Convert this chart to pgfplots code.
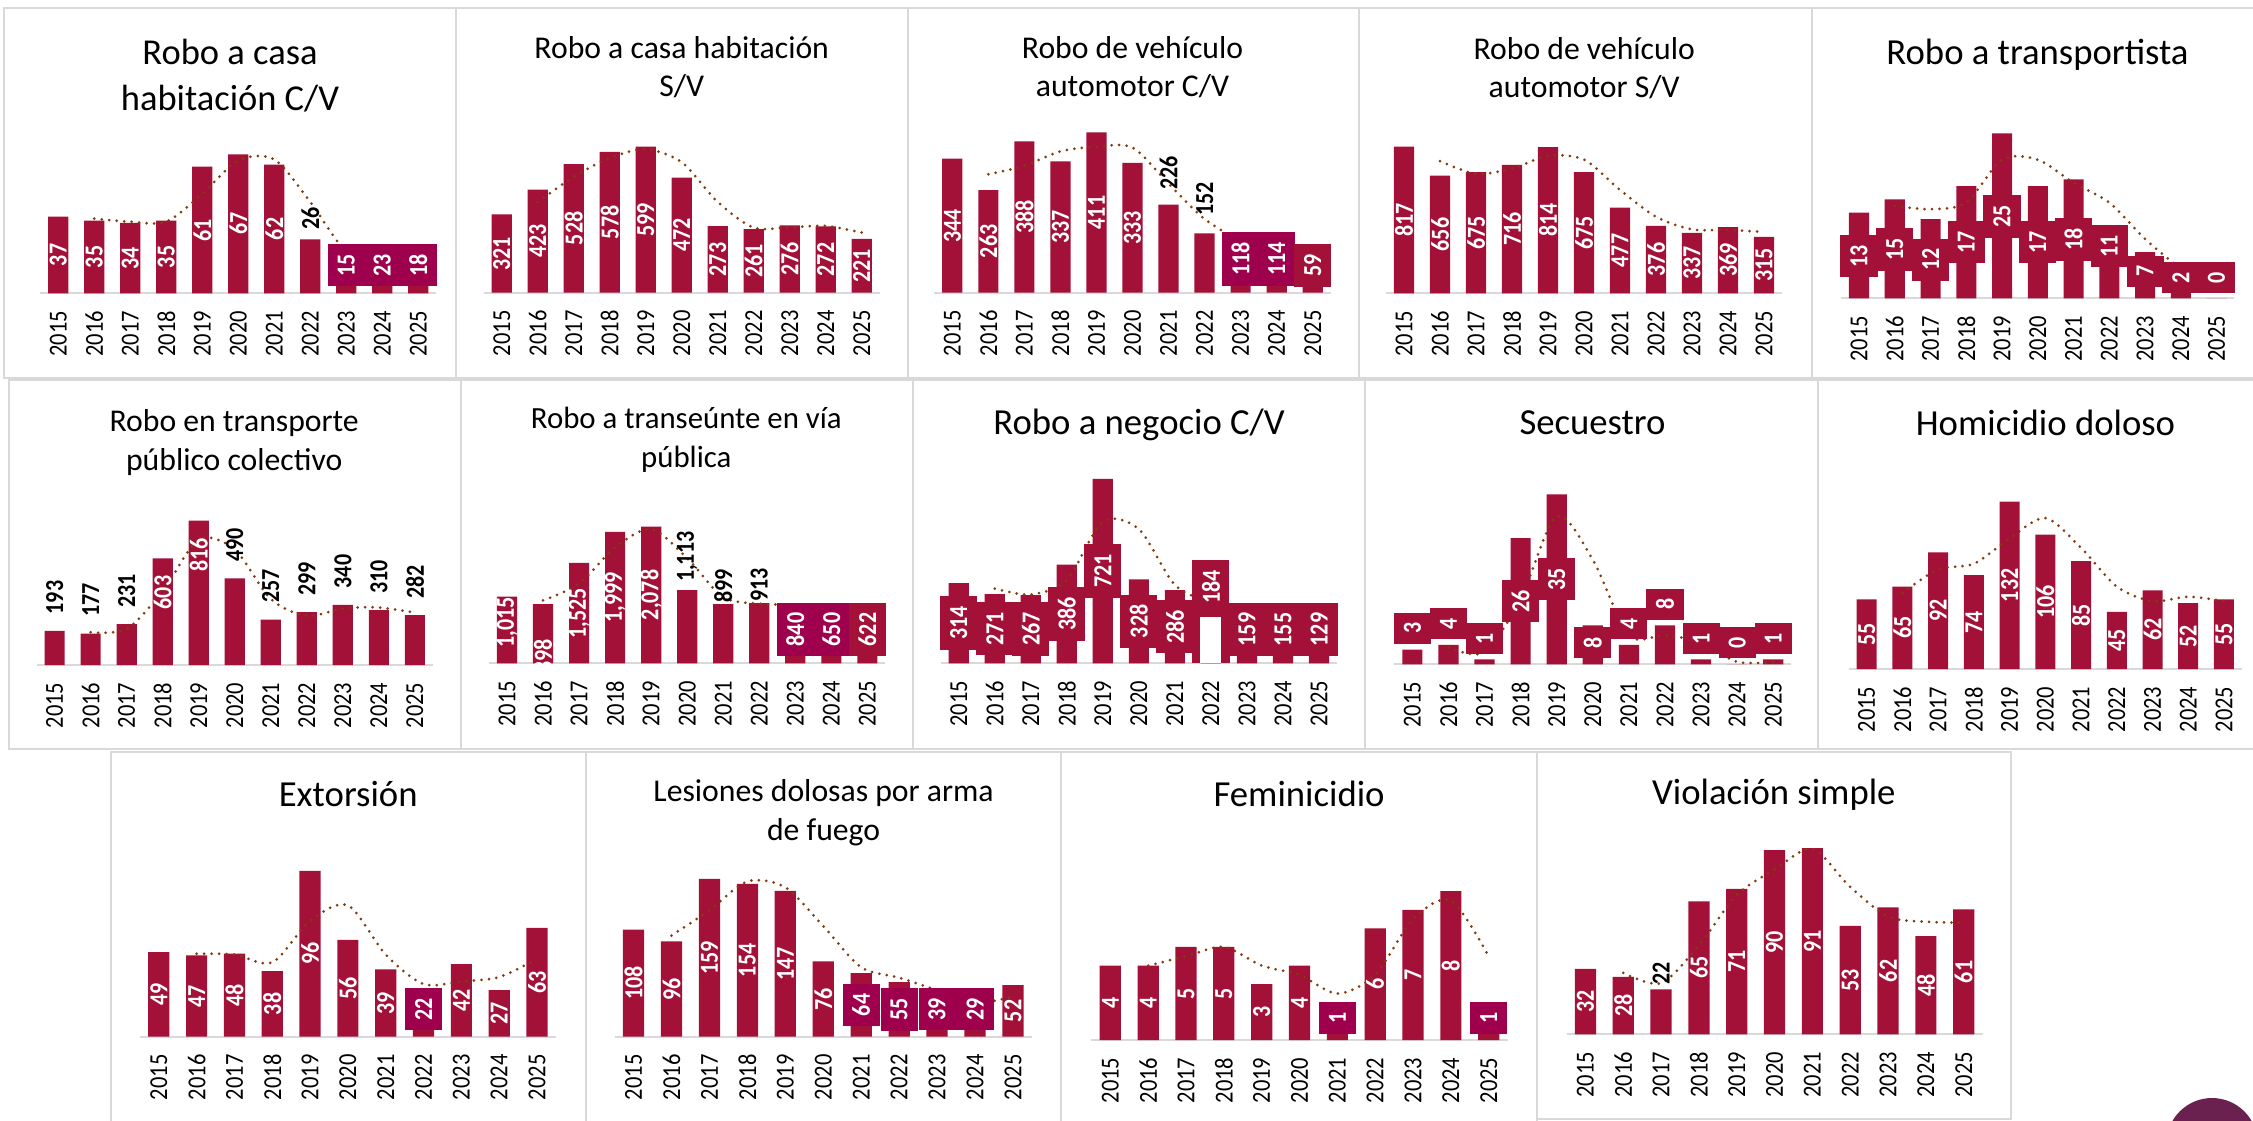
\documentclass[border=0pt]{standalone}
\usepackage{fontspec}
\setmainfont{Carlito}
\usepackage{pgfplots}
\usepackage{pgfplotstable}
\pgfplotsset{compat=1.18}

\definecolor{barc}{HTML}{A31038}
\definecolor{magc}{HTML}{9E004E}
\definecolor{trendc}{HTML}{843C0C}
\definecolor{framec}{HTML}{D9D9D9}
\definecolor{circc}{HTML}{6B2150}

\newcommand{\tfont}{\fontsize{36.7}{44}\selectfont}
\newcommand{\sfont}{\fontsize{31.7}{38}\selectfont}
\newcommand{\tickfont}{\fontsize{22.5}{27}\selectfont}
\newcommand{\labfont}{\fontsize{22}{26}\selectfont\bfseries}

\pgfplotsset{
  panel/.style={scale only axis, height=200pt, anchor=south west, ymin=0, xmin=-0.5, xmax=10.5,
    axis x line=bottom, axis y line=none, ytick=\empty,
    x axis line style={-, draw=framec, line width=2pt},
    xtick={0,1,2,3,4,5,6,7,8,9,10},
    xticklabels={2015,2016,2017,2018,2019,2020,2021,2022,2023,2024,2025},
    major tick length=0pt, xtick style={draw=none},
    xticklabel style={xscale=1.15, rotate=90, anchor=east, font=\tickfont, inner xsep=17.5pt, inner ysep=0pt},
    clip=false},
  bars/.style={ybar, bar width=0.56, fill=barc, draw=none},
  trend/.style={smooth, draw=trendc, line width=3pt, line cap=round, dash pattern=on 0pt off 7.5pt},
  labbase/.style={only marks, mark=*, mark size=0pt, mark options={draw=none,fill=none},
    point meta=explicit,
    nodes near coords={\pgfmathprintnumber[assume math mode=true,1000 sep={,}]{\pgfplotspointmeta}},
    every node near coord/.append style={xscale=1.18, rotate=90, anchor=center, font=\labfont}},
  lw/.style={labbase, every node near coord/.append style={text=white}},
  lb/.style={labbase, every node near coord/.append style={text=white, fill=barc, inner xsep=10pt, minimum height=31.4pt}},
  lm/.style={labbase, every node near coord/.append style={text=white, fill=magc, inner xsep=10pt, minimum height=31.4pt}},
  lk/.style={labbase, every node near coord/.append style={text=black}},
}

% columns: x, value, two-year moving average
\pgfplotstableread{
x v ma
0 37 nan
1 35 36
2 34 34.5
3 35 34.5
4 61 48
5 67 64
6 62 64.5
7 26 44
8 15 20.5
9 23 19
10 18 20.5
}\tA
\pgfplotstableread{
x v ma
0 321 nan
1 423 372
2 528 475.5
3 578 553
4 599 588.5
5 472 535.5
6 273 372.5
7 261 267
8 276 268.5
9 272 274
10 221 246.5
}\tB
\pgfplotstableread{
x v ma
0 344 nan
1 263 303.5
2 388 325.5
3 337 362.5
4 411 374
5 333 372
6 226 279.5
7 152 189
8 118 135
9 114 116
10 59 86.5
}\tC
\pgfplotstableread{
x v ma
0 817 nan
1 656 736.5
2 675 665.5
3 716 695.5
4 814 765
5 675 744.5
6 477 576
7 376 426.5
8 337 356.5
9 369 353
10 315 342
}\tD
\pgfplotstableread{
x v ma
0 13 nan
1 15 14
2 12 13.5
3 17 14.5
4 25 21
5 17 21
6 18 17.5
7 11 14.5
8 7 9
9 2 4.5
10 0 1
}\tE
\pgfplotstableread{
x v ma
0 193 nan
1 177 185
2 231 204
3 603 417
4 816 709.5
5 490 653
6 257 373.5
7 299 278
8 340 319.5
9 310 325
10 282 296
}\tF
\pgfplotstableread{
x v ma
0 1015 nan
1 898 956.5
2 1525 1211.5
3 1999 1762
4 2078 2038.5
5 1113 1595.5
6 899 1006
7 913 906
8 840 876.5
9 650 745
10 622 636
}\tG
\pgfplotstableread{
x v ma
0 314 nan
1 271 292.5
2 267 269
3 386 326.5
4 721 553.5
5 328 524.5
6 286 307
7 184 235
8 159 171.5
9 155 157
10 129 142
}\tH
\pgfplotstableread{
x v ma
0 3 nan
1 4 3.5
2 1 2.5
3 26 13.5
4 35 30.5
5 8 21.5
6 4 6
7 8 6
8 1 4.5
9 0 0.5
10 1 0.5
}\tI
\pgfplotstableread{
x v ma
0 55 nan
1 65 60
2 92 78.5
3 74 83
4 132 103
5 106 119
6 85 95.5
7 45 65
8 62 53.5
9 52 57
10 55 53.5
}\tJ
\pgfplotstableread{
x v ma
0 49 nan
1 47 48
2 48 47.5
3 38 43
4 96 67
5 56 76
6 39 47.5
7 22 30.5
8 42 32
9 27 34.5
10 63 45
}\tK
\pgfplotstableread{
x v ma
0 108 nan
1 96 102
2 159 127.5
3 154 156.5
4 147 150.5
5 76 111.5
6 64 70
7 55 59.5
8 39 47
9 29 34
10 52 40.5
}\tL
\pgfplotstableread{
x v ma
0 4 nan
1 4 4
2 5 4.5
3 5 5
4 3 4
5 4 3.5
6 1 2.5
7 6 3.5
8 7 6.5
9 8 7.5
10 1 4.5
}\tM
\pgfplotstableread{
x v ma
0 32 nan
1 28 30
2 22 25
3 65 43.5
4 71 68
5 90 80.5
6 91 90.5
7 53 72
8 62 57.5
9 48 55
10 61 54.5
}\tN

% #1 table, #2 x of left edge, #3 baseline, #4 width, #5 ymax, #6 labels and extras
\newcommand{\panel}[6]{%
\begin{axis}[panel, at={(#2pt,-#3pt)}, width=#4pt, ymax=#5]
  \addplot[bars] table[x=x,y=v]{#1};
  #6
  \addplot[trend] table[x=x,y=ma]{#1};
\end{axis}}

\begin{document}
\begin{tikzpicture}[x=1pt,y=1pt]
\useasboundingbox (0,0) rectangle (2253,-1120);
% frames
\begin{scope}[framec, line width=2pt]
\draw (4,-8) rectangle (456,-378);
\draw (456,-8) rectangle (908,-378);
\draw (908,-8) rectangle (1359,-378);
\draw (1359,-8) rectangle (1812,-378);
\draw (1812,-8) rectangle (2262,-378);
\draw (9,-380) rectangle (461,-749);
\draw (461,-380) rectangle (913,-749);
\draw (913,-380) rectangle (1365,-749);
\draw (1365,-380) rectangle (1818,-749);
\draw (1818,-380) rectangle (2262,-749);
\draw (111,-752) rectangle (586,-1130);
\draw (586,-752) rectangle (1061,-1130);
\draw (1061,-752) rectangle (1537,-1130);
\draw (1537,-752) rectangle (2011,-1119);
\end{scope}
\begin{scope}
\clip (0,0) rectangle (2253,-1120);
\fill[circc] (2212,-1143.6) circle (45.6);
\end{scope}
% titles
\begin{scope}[every node/.style={anchor=base, inner sep=0pt}]
\node[font=\fontsize{36.5}{44}\selectfont] at (230,-64) {Robo a casa};
\node[font=\fontsize{36.5}{44}\selectfont] at (230,-110) {habitación C/V};
\node[font=\sfont] at (681.7,-58.3) {Robo a casa habitación};
\node[font=\sfont] at (681.7,-96.7) {S/V};
\node[font=\sfont] at (1132.5,-58.3) {Robo de vehículo};
\node[font=\sfont] at (1132.5,-96.7) {automotor C/V};
\node[font=\sfont] at (1584.2,-59) {Robo de vehículo};
\node[font=\sfont] at (1584.2,-97.7) {automotor S/V};
\node[font=\tfont] at (2037.5,-64) {Robo a transportista};
\node[font=\sfont] at (234.2,-431) {Robo en transporte};
\node[font=\sfont] at (234.2,-470) {público colectivo};
\node[font=\fontsize{30.8}{37}\selectfont] at (686.3,-428.3) {Robo a transeúnte en vía};
\node[font=\fontsize{30.8}{37}\selectfont] at (686.3,-467.7) {pública};
\node[font=\tfont] at (1139.1,-434.3) {Robo a negocio C/V};
\node[font=\tfont] at (1592.5,-434.3) {Secuestro};
\node[font=\tfont] at (2045.5,-435.7) {Homicidio doloso};
\node[font=\tfont] at (348.2,-806.7) {Extorsión};
\node[font=\sfont] at (823.6,-801.7) {Lesiones dolosas por arma};
\node[font=\sfont] at (823.6,-840) {de fuego};
\node[font=\tfont] at (1299.1,-806.7) {Feminicidio};
\node[font=\tfont] at (1773.8,-804) {Violación simple};
\end{scope}
% panels
\panel{\tA}{40.3}{293.3}{396}{96.4}{%
  \addplot[lw] coordinates {(0,18.5)[37] (1,17.5)[35] (2,17)[34] (3,17.5)[35] (4,30.5)[61] (5,33.5)[67] (6,31)[62]};
  \addplot[lk] coordinates {(7,36.1)[26]};
  \addplot[lm] coordinates {(8,13.6)[15] (9,13.6)[23] (10,13.6)[18]};}
\panel{\tB}{483.7}{292.7}{396}{820.7}{%
  \addplot[lw] coordinates {(0,160.5)[321] (1,211.5)[423] (2,264)[528] (3,289)[578] (4,299.5)[599] (5,236)[472] (6,136.5)[273] (7,130.5)[261] (8,138)[276] (9,136)[272] (10,110.5)[221]};}
\panel{\tC}{934.3}{292.7}{396.4}{512.8}{%
  \addplot[lw] coordinates {(0,172)[344] (1,131.5)[263] (2,194)[388] (3,168.5)[337] (4,205.5)[411] (5,166.5)[333]};
  \addplot[lk] coordinates {(6,308)[226] (7,240.8)[152]};
  \addplot[lm] coordinates {(8,87)[118] (9,87)[114]};
  \addplot[lb] coordinates {(10,70)[59]};}
\panel{\tD}{1386}{293.3}{396}{1114.2}{%
  \addplot[lw] coordinates {(0,408.5)[817] (1,328)[656] (2,337.5)[675] (3,358)[716] (4,407)[814] (5,337.5)[675] (6,238.5)[477] (7,188)[376] (8,168.5)[337] (9,184.5)[369] (10,157.5)[315]};}
\panel{\tE}{1841.1}{298.3}{393.3}{30.3}{%
  \addplot[lb] coordinates {(0,6.4)[13] (1,7.4)[15] (2,5.85)[12] (3,8.5)[17] (4,12.4)[25] (5,8.5)[17] (6,8.9)[18] (7,7.9)[11] (8,4.1)[7] (9,3.15)[2] (10,3.15)[0]};}
\panel{\tF}{36.6}{665}{396.3}{1130.6}{%
  \addplot[lk] coordinates {(0,382)[193] (1,366)[177] (2,420)[231] (5,679)[490] (6,446)[257] (7,488)[299] (8,529)[340] (9,499)[310] (10,471)[282]};
  \addplot[lw] coordinates {(3,410)[603] (4,623.5)[816]};}
\panel{\tG}{489}{663.3}{396.4}{3039.5}{%
  \addplot[lw] coordinates {(0,625)[1015] (1,114)[898] (2,762.5)[1525] (3,999.5)[1999] (4,1039)[2078]};
  \addplot[lk] coordinates {(5,1620)[1113] (6,1178)[899] (7,1195)[913]};
  \addplot[lm] coordinates {(8,514)[840] (9,514)[650]};
  \addplot[lb] coordinates {(10,514)[622]};}
\panel{\tH}{940.7}{663.3}{396.3}{782.2}{%
  \addplot[ybar, bar width=1.05, fill=barc, draw=none] coordinates {(7,200)};
  \addplot[ybar, bar width=0.58, fill=white, draw=none] coordinates {(7,182)};
  \addplot[lb] coordinates {(0,157)[314] (1,135.5)[271] (2,133.5)[267] (3,193)[386] (4,360.5)[721] (5,164)[328] (6,143)[286] (7,300)[184] (8,132)[159] (9,132)[155] (10,132)[129]};}
\panel{\tI}{1394.3}{664.3}{397}{41.18}{%
  \addplot[lb] coordinates {(0,7.4)[3] (1,8.4)[4] (2,5.3)[1] (3,13)[26] (4,17.5)[35] (5,4.5)[8] (6,8.4)[4] (7,12.4)[8] (8,5.3)[1] (9,4.5)[0] (10,5.3)[1]};}
\panel{\tJ}{1848.8}{669}{393}{157.7}{%
  \addplot[lw] coordinates {(0,27.5)[55] (1,32.5)[65] (2,46)[92] (3,37)[74] (4,66)[132] (5,53)[106] (6,42.5)[85] (7,22.5)[45] (8,31)[62] (9,26)[52] (10,27.5)[55]};}
\panel{\tK}{139.9}{1036.7}{416}{115.7}{%
  \addplot[lw] coordinates {(0,24.5)[49] (1,23.5)[47] (2,24)[48] (3,19)[38] (4,48)[96] (5,28)[56] (6,19.5)[39] (8,21)[42] (9,13.5)[27] (10,31.5)[63]};
  \addplot[lm] coordinates {(7,15.9)[22]};}
\panel{\tL}{614.6}{1036.7}{417.3}{201.6}{%
  \addplot[lw] coordinates {(0,54)[108] (1,48)[96] (2,79.5)[159] (3,77)[154] (4,73.5)[147] (5,38)[76] (10,26)[52]};
  \addplot[lm] coordinates {(6,32)[64] (7,27.5)[55] (8,27.7)[39] (9,27.7)[29]};}
\panel{\tM}{1091.4}{1040}{416.2}{10.75}{%
  \addplot[lw] coordinates {(0,2)[4] (1,2)[4] (2,2.5)[5] (3,2.5)[5] (4,1.5)[3] (5,2)[4] (7,3)[6] (8,3.5)[7] (9,4)[8]};
  \addplot[lm] coordinates {(6,1.18)[1] (10,1.18)[1]};}
\panel{\tN}{1566.5}{1034.3}{416.1}{97.7}{%
  \addplot[lw] coordinates {(0,16)[32] (1,14)[28] (3,32.5)[65] (4,35.5)[71] (5,45)[90] (6,45.5)[91] (7,26.5)[53] (8,31)[62] (9,24)[48] (10,30.5)[61]};
  \addplot[lk] coordinates {(2,29.8)[22]};}
\end{tikzpicture}
\end{document}
